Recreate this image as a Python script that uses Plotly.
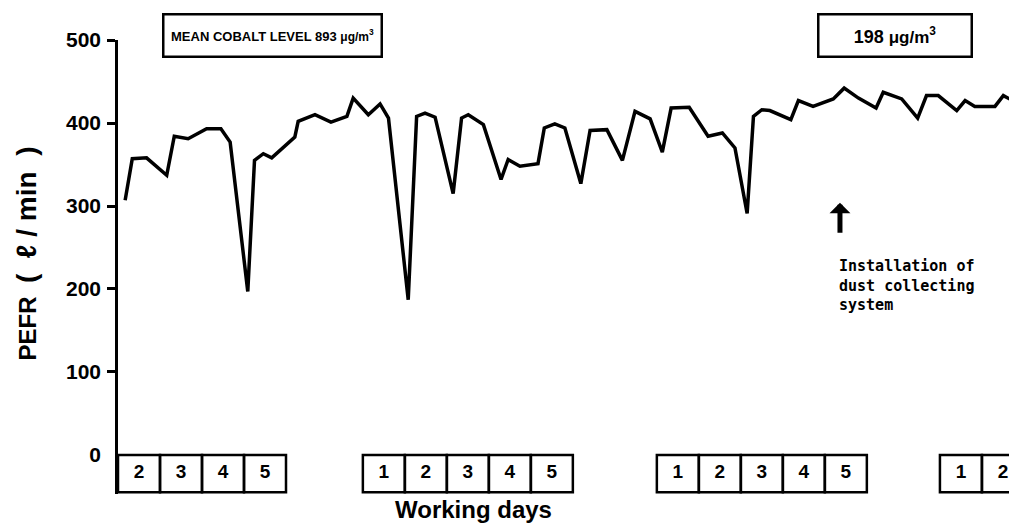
import plotly.graph_objects as go

# ---- data (x in working-day units, y in l/min) ----
day_x = [0.17, 0.34, 0.68, 1.16, 1.34, 1.67, 2.11, 2.45, 2.67, 3.09, 3.25, 3.46,
         3.66, 4.05, 4.21, 4.29, 4.69, 5.07, 5.45, 5.60, 5.96, 6.24, 6.44, 6.91,
         7.11, 7.31, 7.55, 7.98, 8.18, 8.34, 8.70, 9.12, 9.29, 9.57, 10.00, 10.15,
         10.40, 10.64, 11.02, 11.24, 11.64, 12.01, 12.31, 12.67, 12.96, 13.17, 13.60, 14.05,
         14.39, 14.69, 14.98, 15.13, 15.33, 15.52, 16.02, 16.20, 16.55, 17.03, 17.29, 17.63,
         18.05, 18.22, 18.66, 19.04, 19.25, 19.53, 19.97, 20.17, 20.40, 20.88, 21.08, 21.45]
pefr = [307, 357, 358, 337, 384, 381, 393, 393, 377, 197, 355, 363,
        358, 375, 383, 402, 410, 401, 408, 430, 410, 423, 406, 187,
        408, 412, 407, 315, 406, 410, 398, 332, 356, 348, 351, 394,
        399, 394, 327, 391, 392, 355, 414, 405, 365, 418, 419, 384,
        388, 370, 291, 408, 416, 415, 404, 427, 420, 429, 442, 430,
        418, 437, 429, 406, 433, 433, 415, 427, 420, 420, 433, 423]

ytick_vals = [0, 100, 200, 300, 400, 500]
week_starts = [0.0, 5.83, 12.83, 19.57]
week_days = [[2, 3, 4, 5], [1, 2, 3, 4, 5], [1, 2, 3, 4, 5], [1, 2]]
cobalt_labels = ["MEAN COBALT LEVEL 893 ", "198 "]
cobalt_x = [3.69, 18.51]
installation_x = 17.19
installation_text = "Installation of<br>dust collecting<br>system"

BOX_LOW = -45
SANS = "Liberation Sans, Arial, Helvetica, sans-serif"
NB = "\u00a0"

fig = go.Figure()
fig.add_trace(go.Scatter(x=day_x, y=pefr, mode="lines",
                         line=dict(color="black", width=3.5),
                         hoverinfo="skip", showlegend=False))

# working-day boxes
box_cx, box_lbl = [], []
for start, days in zip(week_starts, week_days):
    for i, d in enumerate(days):
        fig.add_shape(type="rect", xref="x", yref="y",
                      x0=start + i, x1=start + i + 1, y0=BOX_LOW, y1=0,
                      line=dict(color="black", width=2.5))
        box_cx.append(start + i + 0.5)
        box_lbl.append(str(d))
fig.add_trace(go.Scatter(x=box_cx, y=[BOX_LOW / 2] * len(box_cx), mode="text",
                         text=box_lbl,
                         textfont=dict(family=SANS, size=19, color="black", weight="bold"),
                         hoverinfo="skip", showlegend=False))

# cobalt level boxes
box_specs = [(216, 13, 12), (151, 18, 17)]
for lbl, cx, (w, fs, us) in zip(cobalt_labels, cobalt_x, box_specs):
    fig.add_annotation(
        x=cx, xref="x", y=1.011, yref="paper", xanchor="center", yanchor="middle",
        text=lbl + "<span style='font-size:%dpx'>μg/m<sup>3</sup></span>" % us,
        showarrow=False, width=w, height=40, borderpad=0,
        bordercolor="black", borderwidth=2.5,
        font=dict(family=SANS, size=fs, color="black", weight="bold"))

# installation arrow + text
fig.add_annotation(x=installation_x, y=304, ax=installation_x, ay=266,
                   xref="x", yref="y", axref="x", ayref="y", text="",
                   showarrow=True, arrowhead=1, arrowsize=0.7, arrowwidth=5,
                   arrowcolor="black")
fig.add_annotation(x=installation_x - 0.07, y=241, xref="x", yref="y",
                   xanchor="left", yanchor="top", align="left", showarrow=False,
                   text=installation_text,
                   font=dict(family="DejaVu Sans Mono", size=15, color="black", weight="bold"))

# axis titles
ytitle = ("PEFR" + NB + NB + "<span style='font-size:28px'>(" + NB + NB + "ℓ" + NB
          + "/" + NB + "min" + NB + NB + ")</span>")
fig.add_annotation(x=-0.1023, y=0.530, xref="paper", yref="paper",
                   xanchor="center", yanchor="middle",
                   text=ytitle, textangle=-90, showarrow=False,
                   font=dict(family=SANS, size=24, color="black", weight="bold"))
fig.add_annotation(x=0.395, y=-0.035, xref="paper", yref="paper",
                   xanchor="center", yanchor="middle",
                   text="Working days", showarrow=False,
                   font=dict(family=SANS, size=24, color="black", weight="bold"))

fig.update_xaxes(range=[0, 21.405], showgrid=False, zeroline=False,
                 showticklabels=False, ticks="", showline=False)
fig.update_yaxes(range=[-47, 500], showgrid=False, zeroline=False,
                 showline=True, linecolor="black", linewidth=2.5,
                 tickmode="array", tickvals=ytick_vals, ticks="",
                 ticklabelstandoff=10,
                 minor=dict(tickmode="array", tickvals=ytick_vals[1:], ticks="outside",
                            ticklen=8, tickwidth=2.5, tickcolor="black"),
                 tickfont=dict(family=SANS, size=21, color="black", weight="bold"))

# the page body adds an 8px offset, so the margins compensate for it
fig.update_layout(width=1017, height=528,
                  margin=dict(l=110, r=8, t=32, b=42, autoexpand=False),
                  paper_bgcolor="white", plot_bgcolor="white")

fig.write_html("out.html")
